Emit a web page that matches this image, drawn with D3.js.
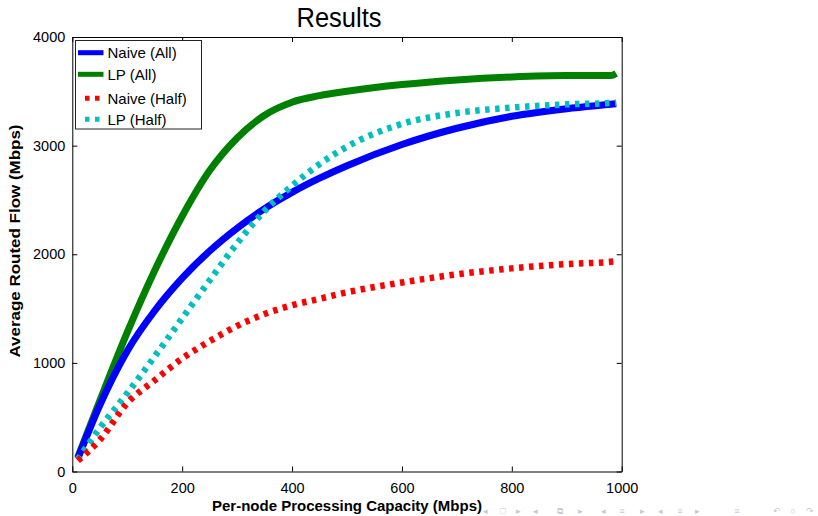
<!DOCTYPE html>
<html>
<head>
<meta charset="utf-8">
<script src="https://cdn.jsdelivr.net/npm/d3@7"></script>
<style>
  body { margin: 0; background: #fff; }
  text { font-family: "Liberation Sans", Arial, sans-serif; }
</style>
</head>
<body>
<div id="main"></div>
<script>

//=============== DATA ===================
var capacity = [10, 50, 100, 150, 200, 250, 300, 350, 400, 450, 500, 600, 700, 800, 900, 980, 990];

var naiveAll  = [120, 610, 1110, 1480, 1780, 2030, 2240, 2420, 2570, 2700, 2815, 3010, 3160, 3270, 3340, 3380, 3385];
var lpAll     = [130, 650, 1280, 1850, 2350, 2770, 3070, 3280, 3400, 3460, 3500, 3562, 3605, 3632, 3645, 3645, 3665];
var naiveHalf = [100, 290, 630, 840, 1040, 1200, 1340, 1450, 1530, 1590, 1650, 1740, 1815, 1870, 1910, 1930, 1935];
var lpHalf    = [110, 400, 720, 1060, 1410, 1760, 2100, 2400, 2630, 2830, 2990, 3200, 3300, 3350, 3380, 3392, 3395];

var seriesNames = ["Naive (All)", "LP (All)", "Naive (Half)", "LP (Half)"];
var seriesColors = ["#0000ff", "#008000", "#ff0000", "#00bfbf"];
var seriesDotted = [false, false, true, true];

var xTicks = [0, 200, 400, 600, 800, 1000];
var yTicks = [0, 1000, 2000, 3000, 4000];

var navGlyphs = ["◂", "□", "▸", "◂", "⧉", "▸", "◂", "≡", "▸", "◂", "≡", "▸", "≡", "↶", "○", "↷"];
var navX = [485, 503, 518, 535, 560, 580, 603, 622, 642, 660, 680, 697, 737, 777, 793, 810];

//=============== SVG ===================
var width = 818, height = 516;

var svg = d3.select("#main").append("svg")
    .attr("width", width)
    .attr("height", height);

var x = d3.scaleLinear().domain([0, 1000]).range([72.3, 621.7]);
var y = d3.scaleLinear().domain([0, 4000]).range([471.5, 37]);

var fmt = d3.format("d");

// title
svg.append("text")
    .attr("x", 339)
    .attr("y", 27)
    .attr("text-anchor", "middle")
    .attr("font-size", 27)
    .attr("textLength", 85)
    .attr("lengthAdjust", "spacingAndGlyphs")
    .text("Results");

// axes (ticks inward, mirrored on top/right)
svg.append("g")
    .attr("transform", "translate(0," + y(0) + ")")
    .call(d3.axisBottom(x).tickValues(xTicks).tickFormat(fmt).tickSizeInner(-5).tickSizeOuter(0).tickPadding(11));

svg.append("g")
    .attr("transform", "translate(" + x(0) + ",0)")
    .call(d3.axisLeft(y).tickValues(yTicks).tickFormat(fmt).tickSizeInner(-5).tickSizeOuter(0).tickPadding(7));

svg.append("g")
    .attr("transform", "translate(0," + y(4000) + ")")
    .call(d3.axisTop(x).tickValues(xTicks).tickSizeInner(-5).tickSizeOuter(0).tickFormat(""));

svg.append("g")
    .attr("transform", "translate(" + x(1000) + ",0)")
    .call(d3.axisRight(y).tickValues(yTicks).tickSizeInner(-5).tickSizeOuter(0).tickFormat(""));

svg.selectAll(".tick text")
    .attr("font-size", 14.5)
    .attr("font-family", "Liberation Sans, Arial, sans-serif")
    .attr("fill", "#000");
svg.selectAll(".domain, .tick line").attr("stroke", "#000");

// axis titles
svg.append("text")
    .attr("x", 347)
    .attr("y", 511)
    .attr("text-anchor", "middle")
    .attr("font-size", 15)
    .attr("font-weight", "bold")
    .text("Per-node Processing Capacity (Mbps)");

svg.append("text")
    .attr("transform", "translate(20,241) rotate(-90)")
    .attr("text-anchor", "middle")
    .attr("font-size", 15)
    .attr("font-weight", "bold")
    .attr("textLength", 233)
    .attr("lengthAdjust", "spacingAndGlyphs")
    .text("Average Routed Flow (Mbps)");

// lines
var allSeries = [naiveAll, lpAll, naiveHalf, lpHalf];

var line = d3.line()
    .x(function(d){ return x(d[0]); })
    .y(function(d){ return y(d[1]); })
    .curve(d3.curveMonotoneX);

// solid first, then dotted on top
[1, 0, 3, 2].forEach(function(i){
    var pts = capacity.map(function(c, j){ return [c, allSeries[i][j]]; });
    svg.append("path")
        .datum(pts)
        .attr("d", line)
        .attr("fill", "none")
        .attr("stroke", seriesColors[i])
        .attr("stroke-width", seriesDotted[i] ? 6.5 : 7)
        .attr("stroke-linecap", "butt")
        .attr("stroke-linejoin", "round")
        .attr("stroke-dasharray", seriesDotted[i] ? "4.5,5.5" : null);
});

// legend
var legend = svg.append("g");
legend.append("rect")
    .attr("x", 75.5)
    .attr("y", 40.5)
    .attr("width", 126)
    .attr("height", 88.5)
    .attr("fill", "#fff")
    .attr("stroke", "#222")
    .attr("stroke-width", 1);

var rowY = [52.7, 74.3, 98.3, 119.3];
seriesNames.forEach(function(name, i){
    legend.append("line")
        .attr("x1", seriesDotted[i] ? 85 : 78)
        .attr("x2", seriesDotted[i] ? 100 : 103.5)
        .attr("y1", rowY[i])
        .attr("y2", rowY[i])
        .attr("stroke", seriesColors[i])
        .attr("stroke-width", 5)
        .attr("stroke-dasharray", seriesDotted[i] ? "4.5,5.5" : null);
    legend.append("text")
        .attr("x", 107.5)
        .attr("y", rowY[i] + 5.5)
        .attr("font-size", 15)
        .text(name);
});

// beamer navigation symbols, bottom right
svg.append("g").selectAll("text")
    .data(navGlyphs)
    .enter()
    .append("text")
    .attr("x", function(d, i){ return navX[i]; })
    .attr("y", 514)
    .attr("text-anchor", "middle")
    .attr("font-family", "DejaVu Sans, sans-serif")
    .attr("font-size", 9)
    .attr("fill", "#c3c8e0")
    .text(function(d){ return d; });

</script>
</body>
</html>
